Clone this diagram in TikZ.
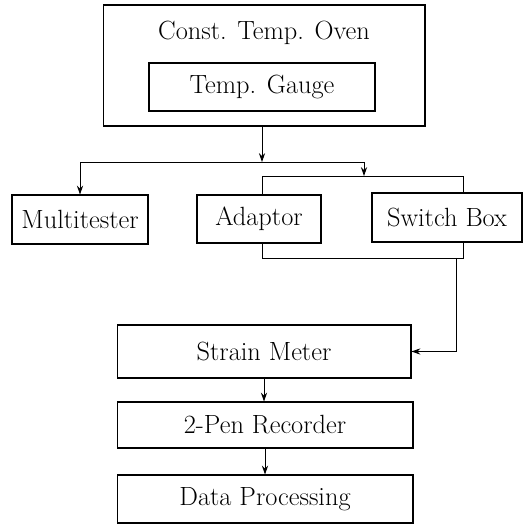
\documentclass[tikz,border=0pt]{standalone}
\usepackage{tikz}
\usetikzlibrary{positioning,arrows.meta,calc}
\tikzset{%
	block/.style    = {draw, rectangle, inner sep=0pt, line width=0.6pt},
	unit/.style     = {font=\fontsize{15}{17}\selectfont}
}

\begin{document}
\begin{tikzpicture}[x=0.02cm, y=-0.02cm, line width=0.5pt,
	>={Stealth[length=5pt,width=3.5pt]},
	unit]
	\useasboundingbox (0,0) rectangle (525,526);
	\draw
	node at (264,65.5)[block, minimum width=6.44cm, minimum height=2.42cm] (oven) {}
	node at (264,33) (ovenlbl) {Const. Temp. Oven}
	node at (262,87)[block, minimum width=4.52cm, minimum height=0.96cm] (gauge) {Temp. Gauge}
	node at (80,219.5)[block, minimum width=2.72cm, minimum height=0.98cm] (multi) {Multitester}
	node at (259,219)[block, minimum width=2.48cm, minimum height=0.96cm] (adaptor) {Adaptor}
	node at (447,217.5)[block, minimum width=3cm, minimum height=0.98cm] (switch) {Switch Box}
	node at (264,351.5)[block, minimum width=5.88cm, minimum height=1.06cm] (strain) {Strain Meter}
	node at (265,425)[block, minimum width=5.92cm, minimum height=0.92cm] (recorder) {2-Pen Recorder}
	node at (265,499)[block, minimum width=5.92cm, minimum height=0.96cm] (data) {Data Processing};
	
	\coordinate (bus) at (262,162);
	\coordinate (drop) at (364,176);
	\coordinate (upL) at (262,176);
	\coordinate (upR) at (463,176);
	\coordinate (loL) at (262,258);
	\coordinate (loR) at (463,258);
	\coordinate (tap) at (456,258);
	
	\draw[->](oven.south -| bus) -- (bus);
	\draw[->](bus) -| (multi.north);
	\draw[->](bus) -| (drop);
	\draw (adaptor.north -| upL) -- (upL) -- (upR) -- (switch.north -| upR);
	\draw (adaptor.south -| loL) -- (loL) -- (loR) -- (switch.south -| loR);
	\draw[->](tap) |- (strain.east);
	\draw[->](strain.south) -- (strain.south |- recorder.north);
	\draw[->](recorder.south) -- (recorder.south |- data.north);
	
\end{tikzpicture}
\end{document}
